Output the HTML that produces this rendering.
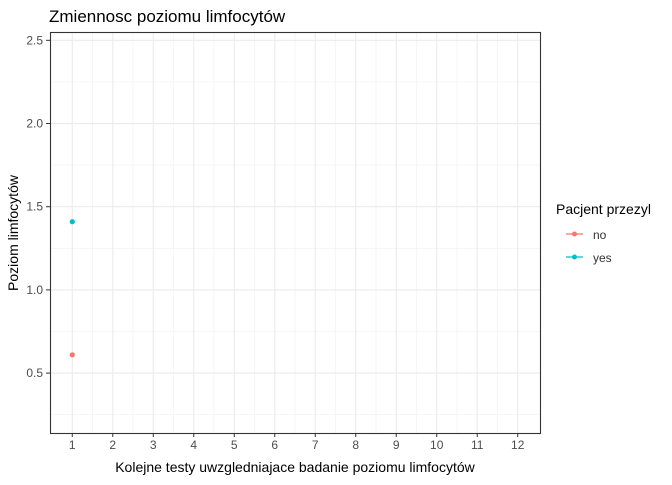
<!DOCTYPE html>
<html><head><meta charset="utf-8"><style>
body{margin:0;background:#fff;font-family:"Liberation Sans",sans-serif;}
svg text{font-family:"Liberation Sans",sans-serif;}
</style></head><body>
<svg width="672" height="480" xmlns="http://www.w3.org/2000/svg">
<text x="49" y="22" font-size="17" fill="#000">Zmiennosc poziomu limfocytów</text>
<g id="grid"></g>
<g id="axes"></g>
<g id="points"></g>
<rect x="50.5" y="32.5" width="490" height="401" fill="none" stroke="#333" stroke-width="1.1"/>
<text x="295" y="472" font-size="14" text-anchor="middle" fill="#000">Kolejne testy uwzgledniajace badanie poziomu limfocytów</text>
<text transform="translate(18,233) rotate(-90)" font-size="14" text-anchor="middle" fill="#000">Poziom limfocytów</text>
<g>
<text x="556" y="214" font-size="14" fill="#000">Pacjent przezyl</text>
<g><line x1="566" x2="583" y1="234" y2="234" stroke="#F8766D" stroke-width="1.2"/><circle cx="574.5" cy="234" r="2.5" fill="#F8766D"/><text x="593" y="239" font-size="12" fill="#333">no</text></g>
<g><line x1="566" x2="583" y1="257" y2="257" stroke="#00BFC4" stroke-width="1.2"/><circle cx="574.5" cy="257" r="2.5" fill="#00BFC4"/><text x="593" y="262" font-size="12" fill="#333">yes</text></g>
</g>
</svg>
<script>
const xCategories=[1,2,3,4,5,6,7,8,9,10,11,12];
const yTicks=[0.5,1.0,1.5,2.0,2.5];
const yTickLabels=["0.5","1.0","1.5","2.0","2.5"];
const seriesNames=["no","yes"];
const seriesX=[[1],[1]];
const seriesY=[[0.61],[1.41]];
const colors=["#F8766D","#00BFC4"];
const NS="http://www.w3.org/2000/svg";
const L=50,R=540,T=32,B=433;
const xmin=0.45,xmax=12.55,ymin=0.14,ymax=2.55;
const sx=v=>L+(v-xmin)/(xmax-xmin)*(R-L);
const sy=v=>B-(v-ymin)/(ymax-ymin)*(B-T);
function mk(tag,attrs,parent){const e=document.createElementNS(NS,tag);for(const k in attrs)e.setAttribute(k,attrs[k]);parent.appendChild(e);return e;}
const grid=document.getElementById('grid'),axes=document.getElementById('axes'),pts=document.getElementById('points');
// minor
for(let i=0;i<xCategories.length-1;i++){const x=sx((xCategories[i]+xCategories[i+1])/2);const l=mk('line',{x1:x,x2:x,y1:T,y2:B,stroke:'#f0f0f0','stroke-width':0.6},grid);}
for(let v=0.25;v<ymax;v+=0.5){const y=sy(v);const l=mk('line',{x1:L,x2:R,y1:y,y2:y,stroke:'#f0f0f0','stroke-width':0.6},grid);}
xCategories.forEach(c=>{const x=sx(c);const l=mk('line',{x1:x,x2:x,y1:T,y2:B,stroke:'#ebebeb','stroke-width':1.1},grid);
const t=mk('line',{x1:x,x2:x,y1:B,y2:B+4,stroke:'#333'},axes);
const tx=mk('text',{x:x,y:B+16,'font-size':12,'text-anchor':'middle',fill:'#4d4d4d'},axes);tx.textContent=c;});
yTicks.forEach((v,i)=>{const y=sy(v);const l=mk('line',{x1:L,x2:R,y1:y,y2:y,stroke:'#ebebeb','stroke-width':1.1},grid);
const t=mk('line',{x1:L-4,x2:L,y1:y,y2:y,stroke:'#333'},axes);
const tx=mk('text',{x:L-7,y:y+4,'font-size':12,'text-anchor':'end',fill:'#4d4d4d'},axes);tx.textContent=yTickLabels[i];});
seriesNames.forEach((n,s)=>{seriesX[s].forEach((xv,j)=>{const c=mk('circle',{cx:sx(xv),cy:sy(seriesY[s][j]),r:2.6,fill:colors[s]},pts);});});
</script>
</body></html>
